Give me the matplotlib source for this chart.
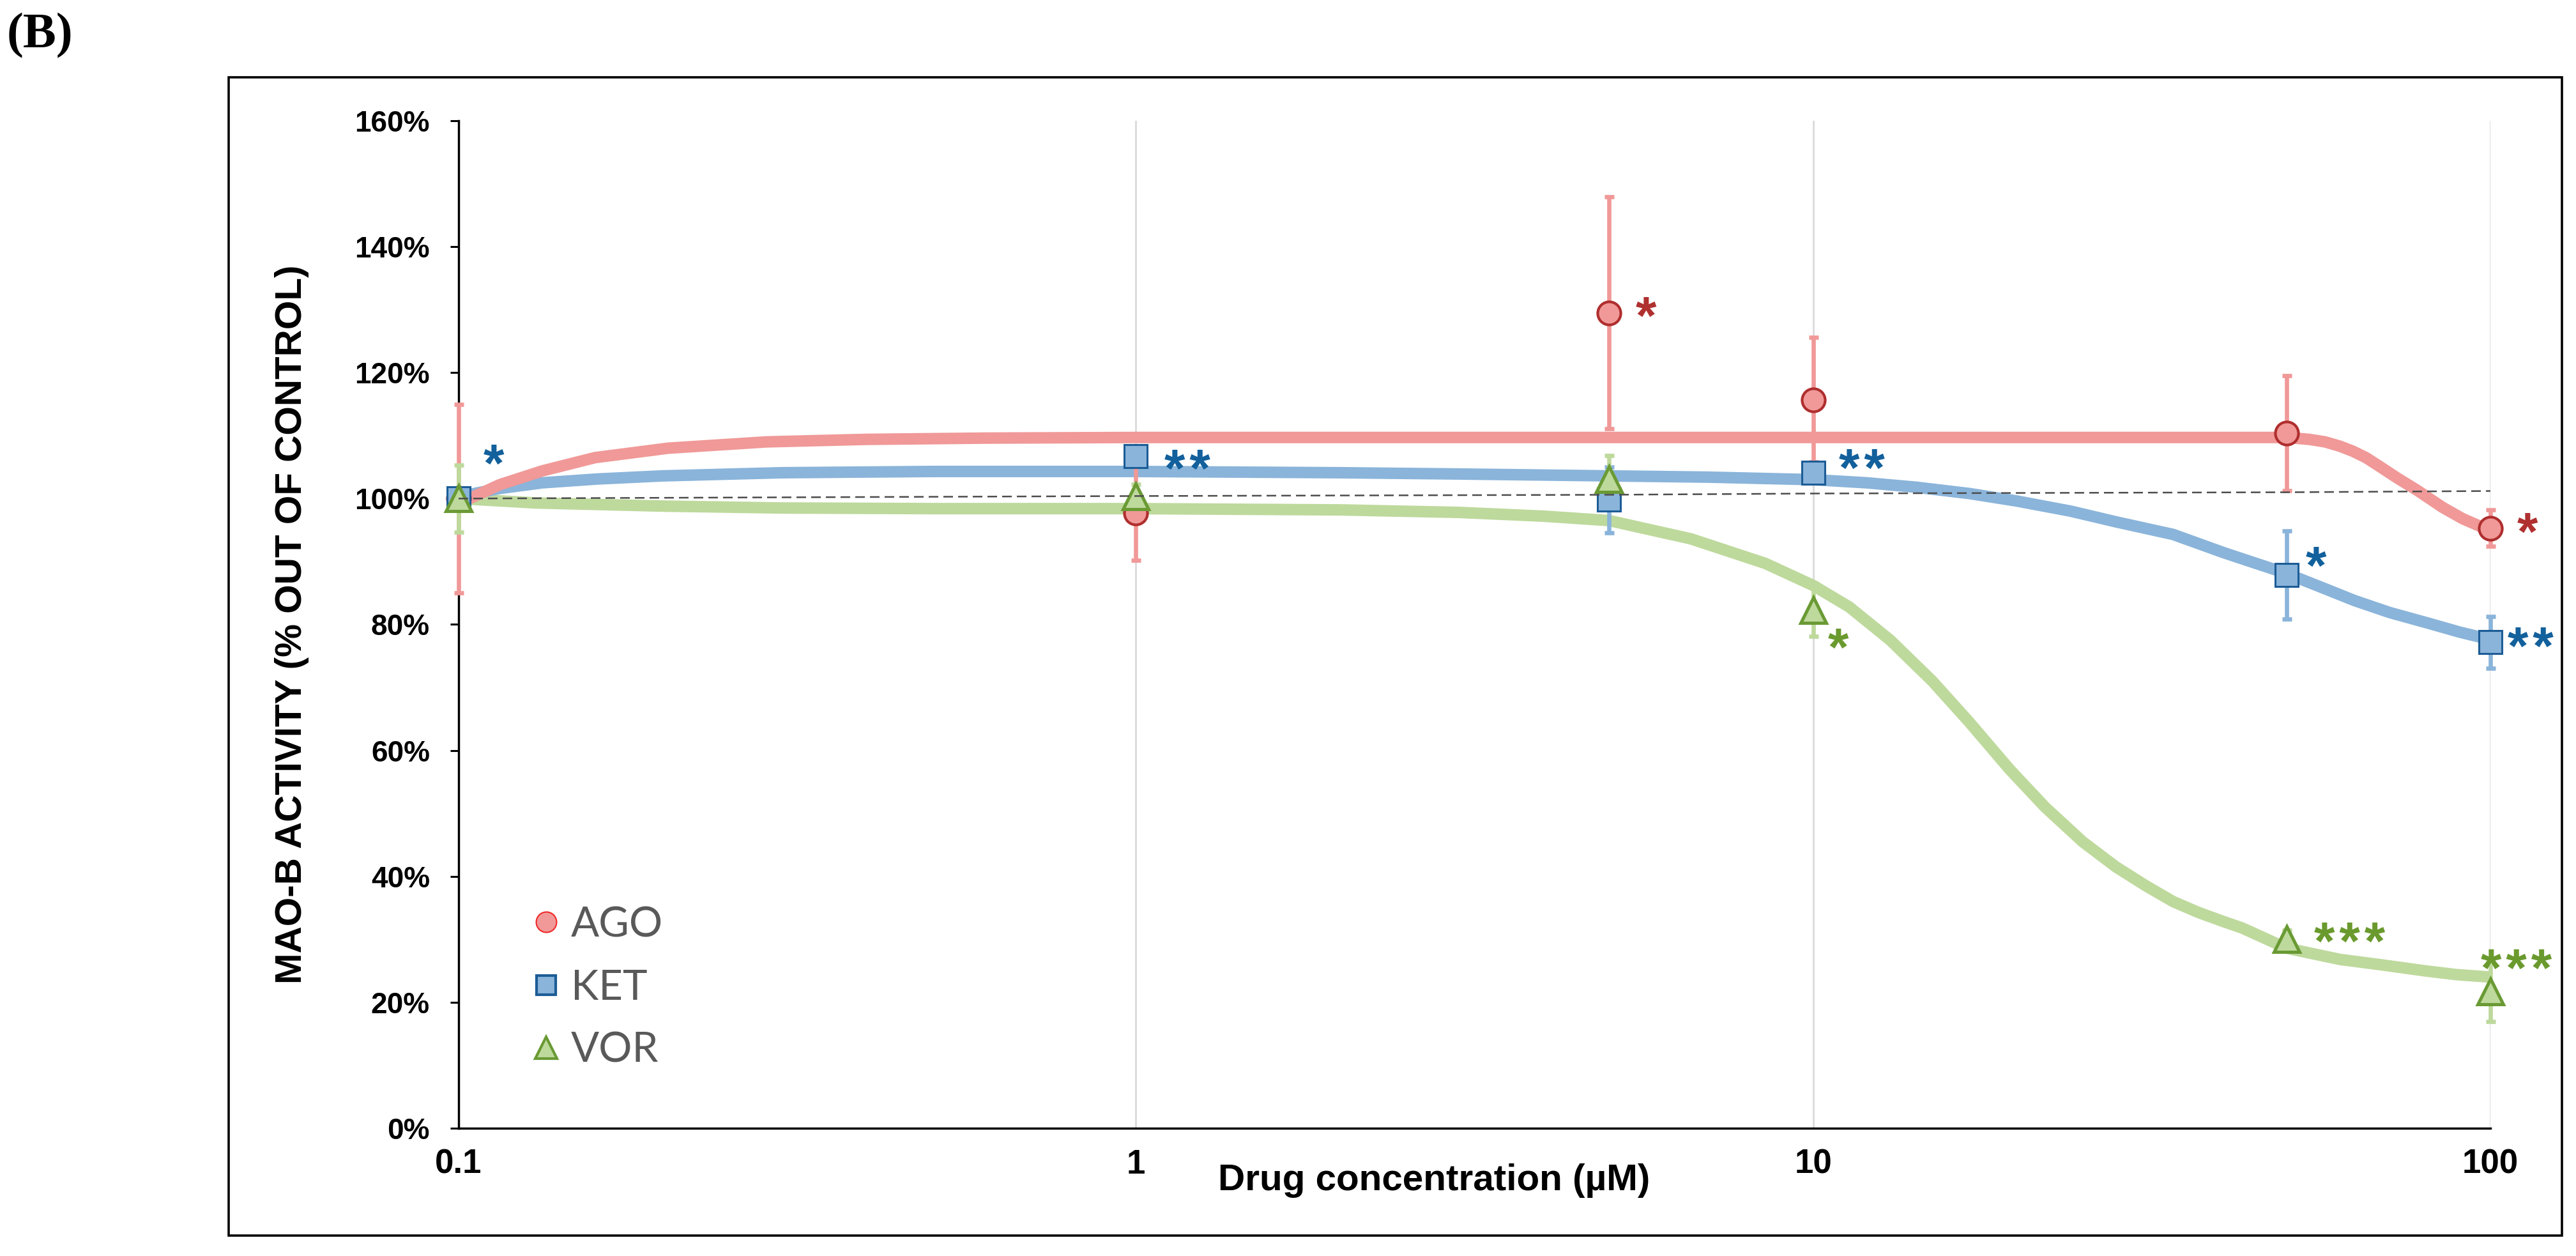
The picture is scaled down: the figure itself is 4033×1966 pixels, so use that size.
import matplotlib
matplotlib.use('Agg')
import matplotlib.pyplot as plt
import matplotlib.transforms as mtransforms
from matplotlib.lines import Line2D
from matplotlib.patches import Rectangle
from matplotlib.ticker import NullLocator

plt.rcParams['font.family'] = ['Liberation Sans', 'DejaVu Sans']

# Measured points (mean +/- error), % of control
conc = [0.1, 1, 5, 10, 50, 100]
ago_mean = [100.0, 97.7, 129.5, 115.7, 110.4, 95.3]
ago_err = [15.0, 7.5, 18.4, 9.9, 9.1, 2.9]
ket_mean = [100.0, 106.7, 99.8, 104.1, 87.9, 77.2]
ket_err = [1.5, 1.5, 5.2, 1.5, 7.0, 4.1]
vor_mean = [100.0, 100.3, 103.1, 82.3, 30.0, 21.7]
vor_err = [5.3, 2.0, 3.7, 4.2, 1.5, 4.8]

# Fitted curves
ago_fit_x = [0.1, 0.115, 0.133, 0.159, 0.204, 0.285, 0.4, 0.6, 1, 5, 20, 50, 54, 57, 60,
             62.7, 65.5, 68.4, 73, 78, 85, 91, 97, 100]
ago_fit_y = [99.2, 102.2, 104.4, 106.5, 108.0, 109.0, 109.4, 109.6, 109.7, 109.7, 109.7, 109.7,
             109.4, 109.0, 108.3, 107.5, 106.5, 105.2, 103.2, 101.3, 98.6, 96.8, 95.5, 95.2]
ket_fit_x = [0.1, 0.115, 0.133, 0.16, 0.2, 0.3, 0.5, 1, 2, 3, 5, 7, 10, 12, 14.2, 17, 20,
             24, 28, 34, 40.4, 50, 56, 63, 71, 81, 90, 100]
ket_fit_y = [100.3, 101.6, 102.5, 103.1, 103.6, 104.1, 104.3, 104.3, 104.1, 103.9, 103.6,
             103.4, 103.0, 102.5, 101.8, 100.8, 99.6, 98.0, 96.3, 94.3, 91.4, 88.1, 86.0,
             83.8, 81.9, 80.2, 78.8, 77.6]
vor_fit_x = [0.1, 0.13, 0.2, 0.3, 0.5, 1, 2, 3, 4, 5, 6.6, 8.5, 10, 11.3, 13, 15, 17, 19.5,
             22, 25, 28, 31, 34, 37, 40.4, 43, 50, 60, 68.5, 80, 89, 100]
vor_fit_y = [100.0, 99.3, 98.8, 98.5, 98.4, 98.4, 98.2, 97.8, 97.2, 96.5, 93.6, 89.7, 86.2,
             82.8, 77.5, 71.0, 64.5, 57.0, 51.0, 45.5, 41.5, 38.5, 36.0, 34.3, 32.8, 31.8,
             28.6, 26.8, 26.0, 25.0, 24.4, 24.0]

# Control reference line
ctrl_x = [0.1, 1, 5, 10, 50, 100]
ctrl_y = [100.0, 100.4, 100.6, 100.8, 101.0, 101.2]

# Significance marks (x, y, text)
ago_sig = [(5.66, 130.9, '*'), (113.5, 96.6, '*')]
ket_sig = [(0.1127, 107.5, '*'), (1.19, 106.6, '**'), (11.8, 106.7, '**'),
           (55.3, 91.2, '*'), (114.7, 78.4, '**')]
vor_sig = [(10.9, 78.2, '*'), (61.9, 31.6, '***'), (109.3, 27.3, '***')]

labels = ['AGO', 'KET', 'VOR']
yticks = [0, 20, 40, 60, 80, 100, 120, 140, 160]
xticks = [0.1, 1, 10, 100]
xtick_labels = ['0.1', '1', '10', '100']

light = {'AGO': '#F09998', 'KET': '#8AB4DA', 'VOR': '#BED99C'}
dark = {'AGO': '#B02E2E', 'KET': '#1C5C96', 'VOR': '#6A9A34'}
sig_col = {'AGO': '#B03030', 'KET': '#12609C', 'VOR': '#6A9A2E'}

fig = plt.figure(figsize=(40.33, 19.66), dpi=100)
ax = fig.add_axes([0.17803, 0.10173, 0.78874, 0.80214])

# Curves
ax.plot(vor_fit_x, vor_fit_y, color=light['VOR'], lw=13, solid_capstyle='butt', zorder=2)
ax.plot(ket_fit_x, ket_fit_y, color=light['KET'], lw=13, solid_capstyle='butt', zorder=2.1)
ax.plot(ago_fit_x, ago_fit_y, color=light['AGO'], lw=13, solid_capstyle='butt', zorder=2.2)

# Error bars and markers
series = [('AGO', ago_mean, ago_err, 'o', 26, 3.0),
          ('KET', ket_mean, ket_err, 's', 26, 2.2),
          ('VOR', vor_mean, vor_err, '^', 29, 3.6)]
for i, (name, m, e, mk, ms, mew) in enumerate(series):
    eb = ax.errorbar(conc, m, yerr=e, fmt='none', ecolor=light[name], elinewidth=4.8,
                     capsize=5.4, capthick=4.8, zorder=3 + i * 0.1)
    for art in eb.lines[1] + eb.lines[2]:
        art.set_clip_on(False)
for i, (name, m, e, mk, ms, mew) in enumerate(series):
    ax.plot(conc, m, ls='none', marker=mk, ms=ms, mfc=light[name], mec=dark[name],
            mew=mew, zorder=4 + i * 0.1, clip_on=False)

ax.plot(ctrl_x, ctrl_y, color='#4D4D4D', lw=1.8, ls=(0, (6, 3.2)), zorder=6)

# Significance asterisks
sig_tr = mtransforms.offset_copy(ax.transData, fig=fig, x=0, y=-25, units='dots')
for name, sigs in [('AGO', ago_sig), ('KET', ket_sig), ('VOR', vor_sig)]:
    for sx, sy, st in sigs:
        ax.text(sx, sy, '\u200a'.join(st), transform=sig_tr, ha='center', va='center',
                fontsize=60, fontweight='bold', color=sig_col[name],
                zorder=7, clip_on=False)

# Axes styling
ax.set_xscale('log')
ax.set_xlim(0.1, 100)
ax.set_ylim(0, 160)
ax.set_xticks(xticks)
ax.set_xticklabels(xtick_labels)
ax.xaxis.set_minor_locator(NullLocator())
ax.set_yticks(yticks)
ax.set_yticklabels([f'{v}%' for v in yticks])
ax.tick_params(axis='x', length=0, pad=23, labelsize=38)
ax.tick_params(axis='y', length=9.4, width=2.2, pad=23, labelsize=33, direction='out')
for lab in ax.get_xticklabels() + ax.get_yticklabels():
    lab.set_fontweight('bold')
ax.grid(axis='x', color='#D9D9D9', lw=2)
ax.set_axisbelow(True)
for s in ['top', 'right']:
    ax.spines[s].set_visible(False)
for s in ['left', 'bottom']:
    ax.spines[s].set_linewidth(2.5)
    ax.spines[s].set_zorder(1.5)

ax.set_xlabel('Drug concentration (µM)', fontsize=42, fontweight='bold', va='top')
ax.xaxis.set_label_coords(0.480, -0.0346)
ax.set_ylabel('MAO-B ACTIVITY (% OUT OF CONTROL)', fontsize=42, fontweight='bold')
ax.yaxis.set_label_coords(-0.0736, 0.5)

# Legend
handles = [Line2D([], [], ls='none', marker='o', ms=23, mfc=light['AGO'], mec='#F02828', mew=1.5),
           Line2D([], [], ls='none', marker='s', ms=22, mfc=light['KET'], mec=dark['KET'], mew=3),
           Line2D([], [], ls='none', marker='^', ms=25, mfc=light['VOR'], mec=dark['VOR'], mew=3)]
ax.legend(handles, labels, loc='center left', bbox_to_anchor=(0.0368, 0.1395), frameon=False,
          handlelength=0.6, handletextpad=0.3, labelspacing=0.6, borderpad=0, borderaxespad=0,
          prop={'family': 'Lato', 'size': 47}, labelcolor='#595959')

# Outer frame and panel letter
fig.add_artist(Rectangle((0.08877, 0.01628), 0.90578, 0.92218, transform=fig.transFigure,
                         fill=False, lw=2.6, ec='black'))
fig.text(0.0027, 0.99, '(B)', ha='left', va='top', fontsize=56, fontweight='bold',
         family='Liberation Serif')

fig.savefig('out.png', dpi=100)
